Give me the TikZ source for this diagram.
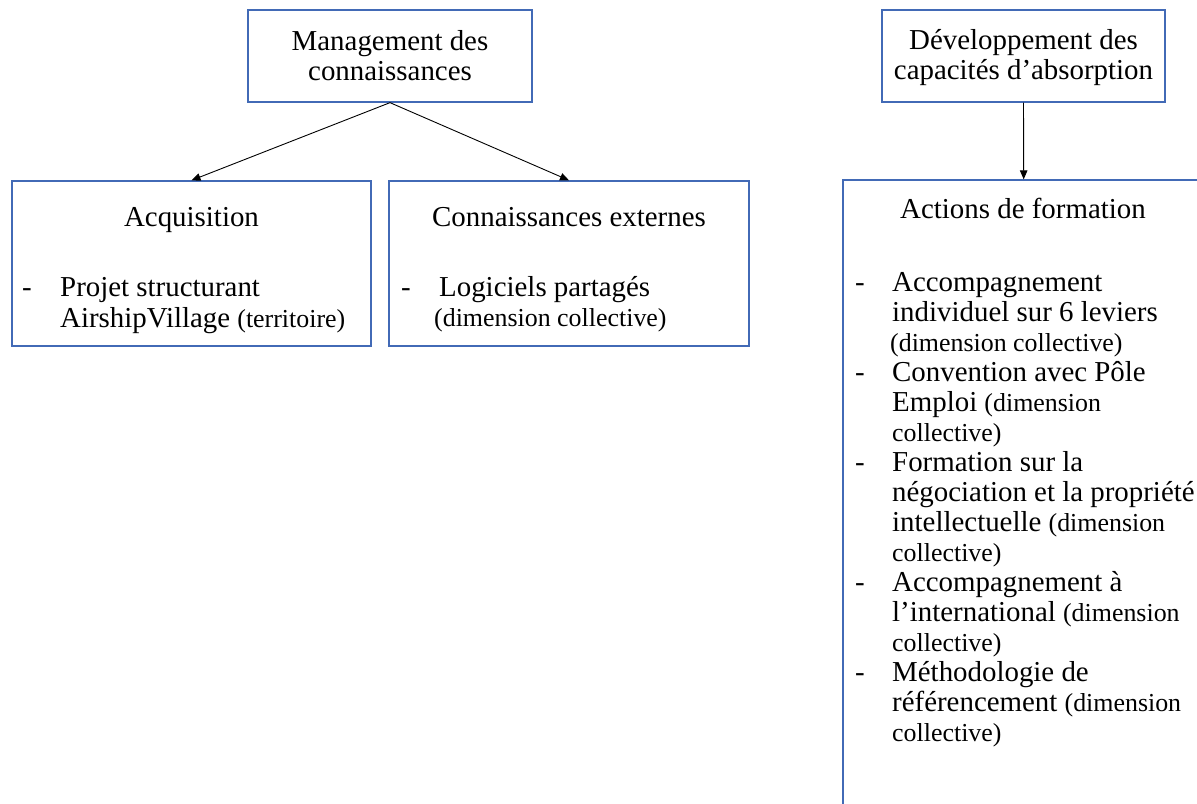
\documentclass[tikz,border=0pt]{standalone}
\usepackage{fontspec}
\setmainfont{Liberation Serif}
\usetikzlibrary{arrows.meta}
\definecolor{boxblue}{RGB}{66,106,182}
\newcommand\smtxt{\fontsize{26}{30}\selectfont}
\begin{document}
\begin{tikzpicture}[x=1bp,y=-1bp,
  box/.style={draw=boxblue,line width=1.3bp,rectangle,inner sep=0pt},
  conn/.style={line width=0.9bp,-{Triangle[length=9bp,width=7.5bp]}},
  big/.style={inner sep=0pt,font=\fontsize{29}{30}\selectfont},
  ln/.style={big,anchor=base west},
  ctr/.style={big,anchor=base},
  hyph/.style={big,anchor=base west}
  ]
\useasboundingbox (0,0) rectangle (1197,804);
\clip (0,0) rectangle (1197,804);
% boxes
\node[box,minimum width=284bp,minimum height=92bp] (man) at (390,56) {};
\node[box,minimum width=283bp,minimum height=92bp] (dev) at (1023.5,56) {};
\node[box,minimum width=359bp,minimum height=165bp] (acq) at (191.5,263.5) {};
\node[box,minimum width=360bp,minimum height=165bp] (ext) at (569,263.5) {};
\node[box,minimum width=361.4bp,minimum height=640bp] (act) at (1023.7,500) {};
% connectors
\draw[conn] (man.south) -- (acq.north);
\draw[conn] (man.south) -- (ext.north);
\draw[conn] (dev.south) -- (act.north);
% top texts
\node[ctr] (m1) at (390,51) {Management des};
\node[ctr] (m2) at (390,81) {connaissances};
\node[ctr] (d1) at (1023.5,50) {Développement des};
\node[ctr] (d2) at (1023.5,80) {capacités d’absorption};
% acquisition
\node[ctr] (a0) at (191.5,226) {Acquisition};
\node[hyph] (ad) at (22,296) {-};
\node[ln] (a1) at (60,296) {Projet structurant};
\node[ln] (a2) at (60,327) {AirshipVillage {\smtxt(territoire)}};
% externes
\node[ctr] (e0) at (569,226) {Connaissances externes};
\node[hyph] (ed) at (401,296) {-};
\node[ln] (e1) at (439,296) {Logiciels partagés};
\node[ln] (e2) at (434,326) {\smtxt(dimension collective)};
% actions
\node[ctr] (f0) at (1023,218) {Actions de formation};
\node[hyph] (fd1) at (855,291) {-};
\node[ln] (f1) at (892,291) {Accompagnement};
\node[ln] (f2) at (892,321) {individuel sur 6 leviers};
\node[ln] (f3) at (890,351) {\smtxt(dimension collective)};
\node[hyph] (fd2) at (855,381) {-};
\node[ln] (f4) at (892,381) {Convention avec Pôle};
\node[ln] (f5) at (892,411) {Emploi {\smtxt(dimension}};
\node[ln] (f6) at (892,441) {\smtxt collective)};
\node[hyph] (fd3) at (855,471) {-};
\node[ln] (f7) at (892,471) {Formation sur la};
\node[ln] (f8) at (892,501) {négociation et la propriété};
\node[ln] (f9) at (892,531) {intellectuelle {\smtxt(dimension}};
\node[ln] (f10) at (892,561) {\smtxt collective)};
\node[hyph] (fd4) at (855,591) {-};
\node[ln] (f11) at (892,591) {Accompagnement à};
\node[ln] (f12) at (892,621) {l’international {\smtxt(dimension}};
\node[ln] (f13) at (892,651) {\smtxt collective)};
\node[hyph] (fd5) at (855,681) {-};
\node[ln] (f14) at (892,681) {Méthodologie de};
\node[ln] (f15) at (892,711) {référencement {\smtxt(dimension}};
\node[ln] (f16) at (892,741) {\smtxt collective)};
\end{tikzpicture}
\end{document}
